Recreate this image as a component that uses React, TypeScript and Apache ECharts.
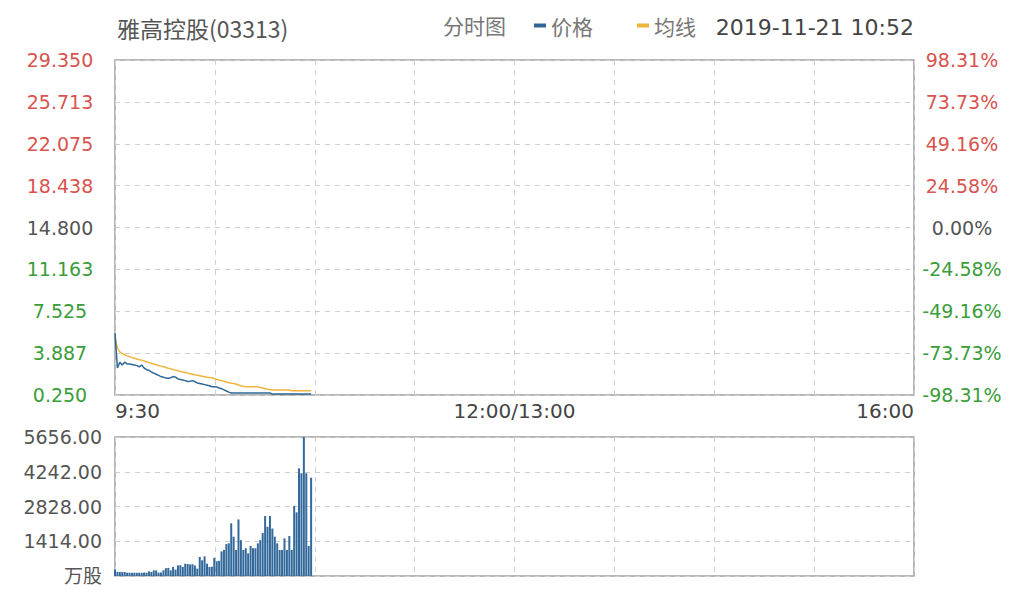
import React, { useEffect, useRef } from "react";
import * as echarts from "echarts";

const stockTitle = "雅高控股(03313)";
const chartKind = "分时图";
const stampText = "2019-11-21 10:52";
const seriesNames = ["价格", "均线"];

const totalMinutes = 330;
const timeTicks = [0, 165, 330];
const timeLabels = ["9:30", "12:00/13:00", "16:00"];

const priceTicks = [0.25, 3.8875, 7.525, 11.1625, 14.8, 18.4375, 22.075, 25.7125, 29.35];
const priceLabels = ["0.250", "3.887", "7.525", "11.163", "14.800", "18.438", "22.075", "25.713", "29.350"];
const pctTicks = [-98.31, -73.7325, -49.155, -24.5775, 0, 24.5775, 49.155, 73.7325, 98.31];
const pctLabels = ["-98.31%", "-73.73%", "-49.16%", "-24.58%", "0.00%", "24.58%", "49.16%", "73.73%", "98.31%"];
const volTicks = [0, 1414, 2828, 4242, 5656];
const volLabels = ["万股", "1414.00", "2828.00", "4242.00", "5656.00"];

// price per minute from 9:30
const prices = [
  5.6, 2.6, 3.1, 2.85, 3.1, 2.95, 2.95, 2.9, 2.85, 2.8,
  2.7, 2.85, 2.6, 2.45, 2.4, 2.25, 2.15, 2.05, 1.95, 1.85,
  1.8, 1.72, 1.7, 1.75, 1.85, 1.8, 1.65, 1.6, 1.55, 1.5,
  1.42, 1.45, 1.5, 1.4, 1.3, 1.25, 1.2, 1.15, 1.1, 1.05,
  0.97, 0.97, 0.95, 0.85, 0.8, 0.7, 0.6, 0.5, 0.42, 0.42,
  0.42, 0.42, 0.42, 0.42, 0.42, 0.42, 0.42, 0.42, 0.42, 0.42,
  0.42, 0.42, 0.42, 0.42, 0.42, 0.33, 0.33, 0.33, 0.33, 0.33,
  0.33, 0.33, 0.33, 0.33, 0.33, 0.33, 0.33, 0.33, 0.33, 0.33,
  0.33, 0.33,
];

// average price per minute
const avgPrices = [
  5.3, 4.3, 4.0, 3.85, 3.75, 3.65, 3.58, 3.5, 3.45, 3.38,
  3.32, 3.28, 3.2, 3.14, 3.08, 3.0, 2.95, 2.88, 2.82, 2.76,
  2.7, 2.64, 2.58, 2.52, 2.46, 2.41, 2.36, 2.3, 2.25, 2.2,
  2.15, 2.1, 2.05, 2.0, 1.96, 1.92, 1.88, 1.84, 1.8, 1.78,
  1.75, 1.68, 1.6, 1.55, 1.5, 1.45, 1.38, 1.32, 1.28, 1.25,
  1.2, 1.12, 1.05, 1.0, 0.97, 0.97, 0.97, 0.97, 0.97, 0.97,
  0.9, 0.85, 0.8, 0.75, 0.72, 0.68, 0.68, 0.68, 0.68, 0.68,
  0.68, 0.68, 0.68, 0.62, 0.62, 0.62, 0.62, 0.62, 0.62, 0.62,
  0.62, 0.62,
];

// volume per minute (万股)
const volumes = [
  260, 170, 165, 160, 165, 130, 135, 130, 135, 130,
  135, 130, 140, 135, 190, 160, 230, 225, 135, 140,
  230, 320, 330, 230, 370, 260, 430, 440, 370, 500,
  490, 470, 480, 430, 300, 775, 640, 800, 500, 370,
  380, 740, 600, 620, 1000, 1060, 1300, 1330, 2145, 1600,
  1060, 2300, 1460, 1060, 1130, 920, 1220, 1130, 1130, 1330,
  1460, 1750, 2440, 2000, 2440, 1930, 1600, 1330, 1060, 1060,
  1530, 1060, 1630, 1060, 2850, 2590, 4380, 4180, 5656, 4180,
  1220, 4000,
];

const RED = "#d9534f";
const GREEN = "#3a9d3a";
const GRAY = "#555555";
const BLUE = "#2f6898";
const GOLD = "#f0b43c";
const FONT = "'DejaVu Sans', 'Noto Sans CJK SC', sans-serif";
const CJK = "'Noto Sans CJK SC', 'DejaVu Sans', sans-serif";

function nearest(ticks: number[], v: number) {
  let best = 0;
  for (let i = 1; i < ticks.length; i++) {
    if (Math.abs(ticks[i] - v) < Math.abs(ticks[best] - v)) best = i;
  }
  return best;
}

function sideColor(ticks: number[], v: number) {
  const i = nearest(ticks, v);
  const mid = (ticks.length - 1) / 2;
  if (i > mid) return RED;
  if (i < mid) return GREEN;
  return GRAY;
}

const dashed = { show: true, lineStyle: { color: "#cfcfcf", type: [5, 5] as any, width: 1 } };

export default function App() {
  const ref = useRef<HTMLDivElement>(null);
  useEffect(() => {
    if (!ref.current) return;
    const chart = echarts.init(ref.current, undefined, { renderer: "svg" });
    const option: any = {
      animation: false,
      backgroundColor: "#ffffff",
      title: {
        text: stockTitle,
        left: 112,
        top: 11,
        textStyle: { fontSize: 23, fontWeight: "normal", color: GRAY, fontFamily: CJK },
      },
      legend: {
        data: seriesNames,
        left: 529,
        top: 10,
        icon: "rect",
        itemWidth: 12,
        itemHeight: 4,
        itemGap: 44,
        textStyle: { fontSize: 21, color: "#777", fontFamily: CJK },
      },
      graphic: [
        {
          type: "text",
          left: 443,
          top: 14,
          style: { text: chartKind, fontSize: 21, fill: "#777", fontFamily: CJK },
        },
        {
          type: "text",
          right: 1030 - 914,
          top: 16,
          style: { text: stampText, fontSize: 22, fill: "#444", fontFamily: FONT },
        },
      ],
      grid: [
        { left: 115, top: 60, width: 799, height: 335, show: true, borderColor: "#a0a0a0", borderWidth: 1.5, backgroundColor: "#fff" },
        { left: 115, top: 437, width: 799, height: 139, show: true, borderColor: "#a0a0a0", borderWidth: 1.5, backgroundColor: "#fff" },
      ],
      xAxis: [
        {
          type: "value",
          gridIndex: 0,
          min: 0,
          max: totalMinutes,
          interval: totalMinutes / 8,
          axisLine: { show: false },
          axisTick: { show: false },
          splitLine: dashed,
          axisLabel: {
            customValues: timeTicks,
            formatter: (v: number) => timeLabels[nearest(timeTicks, v)],
            alignMinLabel: "left",
            alignMaxLabel: "right",
            margin: 6,
            fontSize: 20,
            color: "#444",
            fontFamily: FONT,
          },
        },
        {
          type: "value",
          gridIndex: 1,
          min: 0,
          max: totalMinutes,
          interval: totalMinutes / 8,
          axisLine: { show: false },
          axisTick: { show: false },
          splitLine: dashed,
          axisLabel: { show: false },
        },
      ],
      yAxis: [
        {
          type: "value",
          gridIndex: 0,
          position: "left",
          min: priceTicks[0],
          max: priceTicks[priceTicks.length - 1],
          axisLine: { show: false },
          axisTick: { show: false, customValues: priceTicks },
          splitLine: dashed,
          axisLabel: {
            customValues: priceTicks,
            formatter: (v: number) => priceLabels[nearest(priceTicks, v)],
            color: (v: any) => sideColor(priceTicks, Number(v)),
            align: "center",
            margin: 55,
            fontSize: 19,
            fontFamily: FONT,
          },
        },
        {
          type: "value",
          gridIndex: 0,
          position: "right",
          min: pctTicks[0],
          max: pctTicks[pctTicks.length - 1],
          axisLine: { show: false },
          axisTick: { show: false, customValues: pctTicks },
          splitLine: { show: false },
          axisLabel: {
            customValues: pctTicks,
            formatter: (v: number) => pctLabels[nearest(pctTicks, v)],
            color: (v: any) => sideColor(pctTicks, Number(v)),
            align: "center",
            margin: 48,
            fontSize: 19,
            fontFamily: FONT,
          },
        },
        {
          type: "value",
          gridIndex: 1,
          min: 0,
          max: volTicks[volTicks.length - 1],
          interval: volTicks[1],
          axisLine: { show: false },
          axisTick: { show: false },
          splitLine: dashed,
          axisLabel: {
            formatter: (v: number) => volLabels[nearest(volTicks, v)],
            color: GRAY,
            align: "right",
            margin: 13,
            fontSize: 19,
            fontFamily: FONT,
          },
        },
      ],
      series: [
        {
          name: seriesNames[0],
          type: "line",
          xAxisIndex: 0,
          yAxisIndex: 0,
          data: prices.map((p, i) => [i, p]),
          showSymbol: false,
          lineStyle: { color: BLUE, width: 1.5 },
          itemStyle: { color: BLUE },
          z: 3,
        },
        {
          name: seriesNames[1],
          type: "line",
          xAxisIndex: 0,
          yAxisIndex: 0,
          data: avgPrices.map((p, i) => [i, p]),
          showSymbol: false,
          lineStyle: { color: GOLD, width: 1.5 },
          itemStyle: { color: GOLD },
          z: 2,
        },
        {
          name: "成交量",
          type: "bar",
          xAxisIndex: 1,
          yAxisIndex: 2,
          data: volumes.map((v, i) => [i, v]),
          barWidth: 2,
          itemStyle: { color: "#33699b" },
        },
      ],
    };
    chart.setOption(option);
    return () => chart.dispose();
  }, []);
  return <div ref={ref} style={{ width: 1030, height: 612, position: "absolute", left: 0, top: 0 }} />;
}
